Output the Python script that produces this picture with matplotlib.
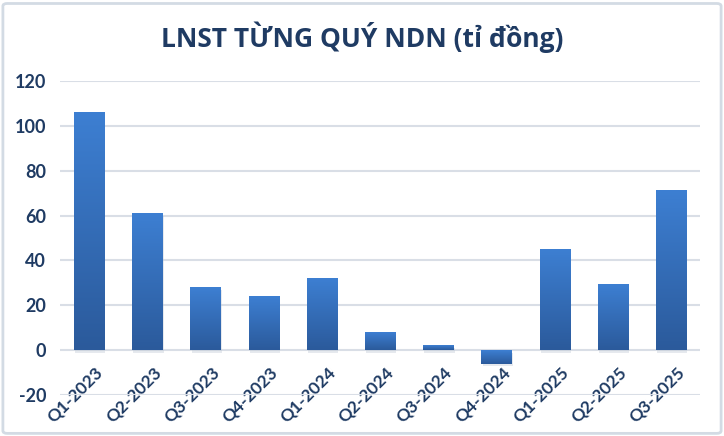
import numpy as np
import matplotlib.pyplot as plt
from matplotlib.patches import FancyBboxPatch
from matplotlib.colors import LinearSegmentedColormap
import matplotlib.transforms as mtransforms

# data
quarters = ['Q1-2023', 'Q2-2023', 'Q3-2023', 'Q4-2023', 'Q1-2024', 'Q2-2024',
            'Q3-2024', 'Q4-2024', 'Q1-2025', 'Q2-2025', 'Q3-2025']
profit = [106, 61, 28, 24, 32, 8, 2, -6, 45, 29, 71]
y_ticks = [-20, 0, 20, 40, 60, 80, 100, 120]

NAVY = '#1F3B63'
GRID = '#D9DEE6'

plt.rcParams['font.family'] = ['Lato', 'DejaVu Sans']
plt.rcParams['axes.unicode_minus'] = False

fig = plt.figure(figsize=(7.24, 4.36), dpi=100)
ax = fig.add_axes([0.083, 0.094, 0.884, 0.72])

x = np.arange(len(quarters))
bars = ax.bar(x, profit, width=0.52, color='#3370C0', zorder=3)

# vertical gradient on each bar (light top, dark bottom)
cmap = LinearSegmentedColormap.from_list('bar', ['#2B5A9B', '#3D7FD2'])
grad = np.linspace(0, 1, 256).reshape(-1, 1)
for b in bars:
    x0, y0 = b.get_x(), b.get_y()
    w, h = b.get_width(), b.get_height()
    lo, hi = min(y0, y0 + h), max(y0, y0 + h)
    ax.imshow(grad, cmap=cmap, origin='lower', aspect='auto',
              extent=(x0, x0 + w, lo, hi), zorder=3)
    b.set_visible(False)
    # soft shadow under bar
    ax.add_patch(plt.Rectangle((x0 + 0.02, lo - 1.2), w, hi - lo,
                               color='#B8C2D0', alpha=0.35, zorder=2, lw=0))

ax.set_xlim(-0.5, len(quarters) - 0.5)
ax.set_ylim(-20, 120)
ax.set_yticks(y_ticks)
ax.set_xticks(x)
# category axis crosses at zero, like the source chart
ax.spines['bottom'].set_position(('data', 0))
ax.set_xticklabels(quarters, rotation=45, ha='right', va='top',
                   rotation_mode='anchor')
ax.tick_params(axis='both', length=0, labelcolor=NAVY)
ax.tick_params(axis='y', pad=10, labelsize=13)
ax.tick_params(axis='x', pad=10, labelsize=12.5)
shift = mtransforms.ScaledTranslation(4 / 72, 0, fig.dpi_scale_trans)
for lab in ax.get_xticklabels():
    lab.set_transform(lab.get_transform() + shift)
for lab in ax.get_xticklabels() + ax.get_yticklabels():
    lab.set_fontweight('bold')
ax.grid(axis='y', color=GRID, lw=1.5, zorder=0)
for s in ax.spines.values():
    s.set_visible(False)

# Open Sans carries the Vietnamese hook-above glyph
fig.text(0.5, 0.915, 'LNST TỪNG QUÝ NDN (tỉ đồng)', ha='center', va='center',
         fontsize=19, fontweight='bold', color=NAVY,
         family=['Open Sans', 'DejaVu Sans'])

# outer frame
fig.patches.append(FancyBboxPatch((0.004, 0.006), 0.992, 0.986,
                                  boxstyle='round,pad=0,rounding_size=0.006',
                                  transform=fig.transFigure, fill=False,
                                  ec='#D3DBE4', lw=2))

fig.savefig('out.png', dpi=100)
